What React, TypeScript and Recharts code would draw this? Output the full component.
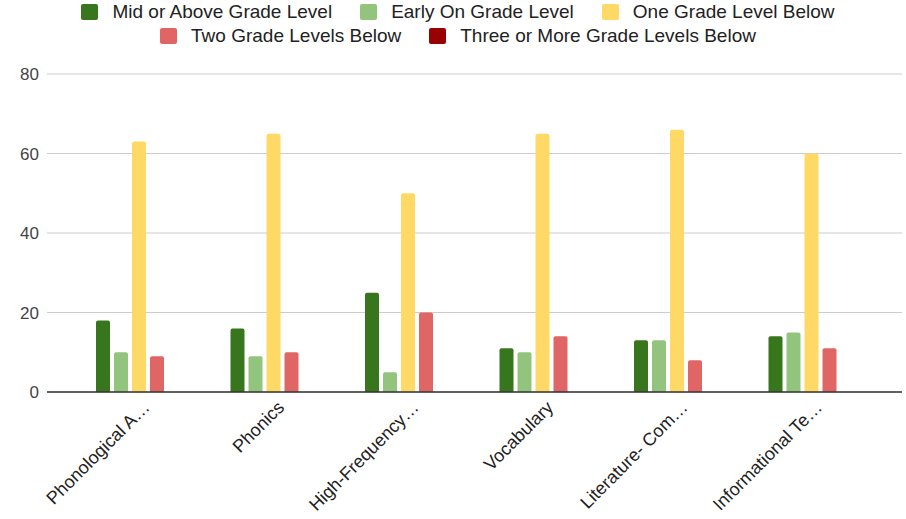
import React from "react";
import {
  BarChart,
  Bar,
  XAxis,
  YAxis,
  CartesianGrid,
  Legend,
} from "recharts";

const categories = [
  "Phonological A…",
  "Phonics",
  "High-Frequency…",
  "Vocabulary",
  "Literature- Com…",
  "Informational Te…",
];

const midOrAbove = [18, 16, 25, 11, 13, 14];
const earlyOn = [10, 9, 5, 10, 13, 15];
const oneBelow = [63, 65, 50, 65, 66, 60];
const twoBelow = [9, 10, 20, 14, 8, 11];
const threeOrMore = [0, 0, 0, 0, 0, 0];

const yTicks = [0, 20, 40, 60, 80];

const series = [
  { key: "mid", name: "Mid or Above Grade Level", color: "#38761d", values: midOrAbove },
  { key: "early", name: "Early On Grade Level", color: "#93c47d", values: earlyOn },
  { key: "one", name: "One Grade Level Below", color: "#ffd966", values: oneBelow },
  { key: "two", name: "Two Grade Levels Below", color: "#e06666", values: twoBelow },
  { key: "three", name: "Three or More Grade Levels Below", color: "#990000", values: threeOrMore },
];

const data = categories.map((c, i) => {
  const row: Record<string, string | number> = { category: c };
  series.forEach((s) => {
    row[s.key] = s.values[i];
  });
  return row;
});

const FONT = "'Liberation Sans', Arial, sans-serif";

function LegendItem({ name, color }: { name: string; color: string }) {
  return (
    <div style={{ display: "flex", alignItems: "center", margin: "0 14px" }}>
      <div
        style={{
          width: 17,
          height: 16,
          background: color,
          borderRadius: 2,
          marginRight: 14,
        }}
      />
      <span style={{ fontSize: 19, color: "#222", fontFamily: FONT }}>{name}</span>
    </div>
  );
}

function TwoRowLegend() {
  const rows = [series.slice(0, 3), series.slice(3)];
  return (
    <div style={{ height: 74, width: 906, paddingTop: 0, boxSizing: "border-box" }}>
      {rows.map((row, r) => (
        <div
          key={r}
          style={{
            display: "flex",
            justifyContent: "center",
            height: 24,
            paddingLeft: 10,
          }}
        >
          {row.map((s) => (
            <LegendItem key={s.key} name={s.name} color={s.color} />
          ))}
        </div>
      ))}
    </div>
  );
}

function XTick(props: any) {
  const { x, y, payload } = props;
  return (
    <g transform={`translate(${x + 8},${y + 5})`}>
      <text
        textAnchor="end"
        transform="rotate(-45)"
        fontSize={18}
        fill="#222"
        fontFamily={FONT}
        dy={5}
      >
        {payload.value}
      </text>
    </g>
  );
}

export default function App() {
  return (
    <div style={{ position: "absolute", left: 0, top: 0, background: "#fff" }}>
      <BarChart
        width={906}
        height={519}
        data={data}
        margin={{ top: 0, right: 4, left: 0, bottom: 7 }}
        barSize={14}
        barGap={4}
      >
        <Legend
          verticalAlign="top"
          align="center"
          content={() => <TwoRowLegend />}
          wrapperStyle={{ top: 0, left: 0 }}
        />
        <CartesianGrid vertical={false} stroke="#cccccc" />
        <XAxis
          dataKey="category"
          height={120}
          interval={0}
          tick={<XTick />}
          tickLine={false}
          axisLine={{ stroke: "#333", strokeWidth: 1.5 }}
          padding={{ left: 25, right: 23 }}
        />
        <YAxis
          width={47}
          domain={[0, 80]}
          ticks={yTicks}
          tickLine={false}
          axisLine={false}
          tick={{ fontSize: 17, fill: "#444", fontFamily: FONT }}
        />
        {series.map((s) => (
          <Bar
            key={s.key}
            dataKey={s.key}
            name={s.name}
            fill={s.color}
            radius={[2, 2, 0, 0]}
            isAnimationActive={false}
          />
        ))}
      </BarChart>
    </div>
  );
}
